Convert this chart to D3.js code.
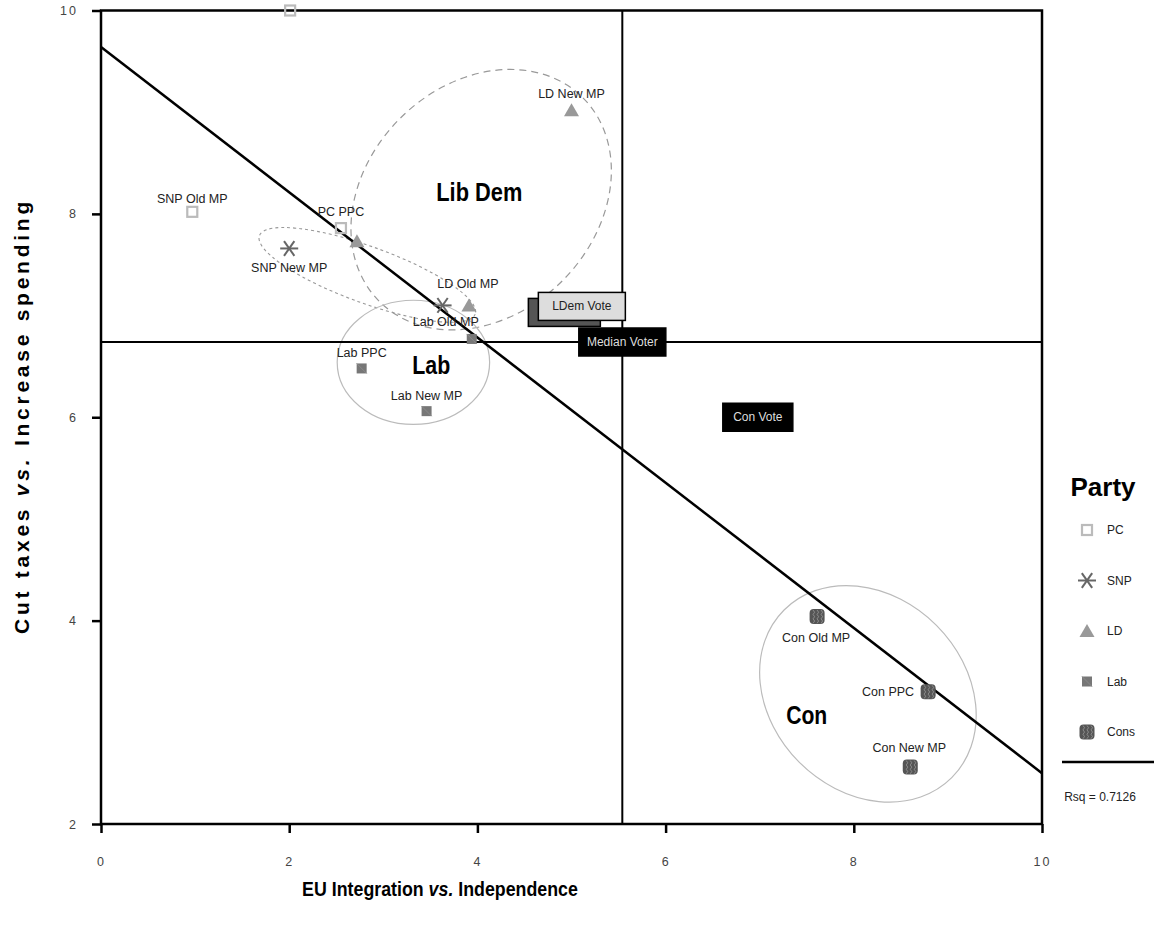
<!DOCTYPE html>
<html>
<head>
<meta charset="utf-8">
<script src="https://cdn.jsdelivr.net/npm/d3@7"></script>
<style>
  body { margin: 0; background: #fff; }
  svg text { font-family: "Liberation Sans", Arial, sans-serif; }
</style>
</head>
<body>
<div id="chart"></div>
<script>
// data
const partyNames = ["PC", "SNP", "LD", "Lab", "Cons"];

const pointParty = ["PC", "PC", "PC", "SNP", "SNP", "LD", "LD", "LD", "Lab", "Lab", "Lab", "Cons", "Cons", "Cons"];
const pointX = [0.97, 2.01, 2.55, 2.00, 3.63, 2.72, 5.00, 3.91, 3.94, 2.77, 3.46, 7.61, 8.79, 8.60];
const pointY = [8.02, 10.0, 7.86, 7.66, 7.10, 7.73, 9.02, 7.10, 6.77, 6.48, 6.06, 4.04, 3.30, 2.56];
const pointLabel = ["SNP Old MP", "", "PC PPC", "SNP New MP", "", "", "LD New MP", "LD Old MP",
                    "Lab Old MP", "Lab PPC", "Lab New MP", "Con Old MP", "Con PPC", "Con New MP"];

const voteLabels = ["LDem Vote", "Median Voter", "Con Vote"];
const voteX = [5.11, 5.54, 6.98];
const voteY = [7.09, 6.74, 6.00];

const groupNames = ["Lib Dem", "SNP", "Lab", "Con"];
const groupCx = [4.04, 2.83, 3.32, 8.15];
const groupCy = [8.14, 7.40, 6.54, 3.28];
const groupLabelX = [4.02, null, 3.51, 7.50];
const groupLabelY = [8.22, null, 6.51, 3.07];

const medianX = 5.54;
const medianY = 6.74;
const fitIntercept = 9.64;
const fitSlope = -0.714;
const rsq = 0.7126;

const xTicks = [0, 2, 4, 6, 8, 10];
const yTicks = [2, 4, 6, 8, 10];

// layout
const W = 1154, H = 930;
const x = d3.scaleLinear().domain([0, 10]).range([101, 1042]);
const y = d3.scaleLinear().domain([2, 10]).range([824, 10.5]);

const svg = d3.select("#chart").append("svg")
    .attr("width", W)
    .attr("height", H);

const boldFont = "'Liberation Sans', Arial, sans-serif";

// ellipses (semi axes in x units, angle in screen degrees)
const ellipseStyle = {
  "Lib Dem": { a: 1.53, b: 1.22, angle: -45, stroke: "#999", width: 1.2, dash: "7,5" },
  "SNP":     { a: 1.22, b: 0.30, angle: 20,  stroke: "#999", width: 1.1, dash: "3,3" },
  "Lab":     { a: 0.81, b: 0.66, angle: 0,   stroke: "#bbb", width: 1.2, dash: null },
  "Con":     { a: 1.26, b: 1.03, angle: 45,  stroke: "#bbb", width: 1.2, dash: null }
};
const unit = x(1) - x(0);

groupNames.forEach((g, i) => {
  const s = ellipseStyle[g];
  svg.append("ellipse")
      .attr("cx", 0).attr("cy", 0)
      .attr("rx", s.a * unit)
      .attr("ry", s.b * unit)
      .attr("transform", `translate(${x(groupCx[i])},${y(groupCy[i])}) rotate(${s.angle})`)
      .attr("fill", "none")
      .attr("stroke", s.stroke)
      .attr("stroke-width", s.width)
      .attr("stroke-dasharray", s.dash);
});

// median lines
svg.append("line")
    .attr("x1", x(medianX)).attr("x2", x(medianX))
    .attr("y1", y(10)).attr("y2", y(2))
    .attr("stroke", "#000").attr("stroke-width", 2);
svg.append("line")
    .attr("x1", x(0)).attr("x2", x(10))
    .attr("y1", y(medianY)).attr("y2", y(medianY))
    .attr("stroke", "#000").attr("stroke-width", 2);

// fit line
svg.append("line")
    .attr("x1", x(0)).attr("y1", y(fitIntercept))
    .attr("x2", x(10)).attr("y2", y(fitIntercept + fitSlope * 10))
    .attr("stroke", "#000").attr("stroke-width", 2.5);

// axes
const xAxis = d3.axisBottom(x).tickValues(xTicks).tickSize(9).tickPadding(24).tickFormat(d3.format("d"));
const yAxis = d3.axisLeft(y).tickValues(yTicks).tickSize(9).tickPadding(14).tickFormat(d3.format("d"));

const gx = svg.append("g").attr("transform", `translate(0,${y(2)})`).call(xAxis);
const gy = svg.append("g").attr("transform", `translate(${x(0)},0)`).call(yAxis);
[gx, gy].forEach(g => {
  g.select(".domain").remove();
  g.selectAll(".tick line").attr("stroke", "#000").attr("stroke-width", 2.5);
  g.selectAll(".tick text")
      .attr("fill", "#444")
      .style("font-size", "12.5px")
      .style("letter-spacing", "2px")
      .style("font-family", "'Liberation Sans', Arial, sans-serif");
});

// frame
svg.append("rect")
    .attr("x", x(0)).attr("y", y(10))
    .attr("width", x(10) - x(0))
    .attr("height", y(2) - y(10))
    .attr("fill", "none")
    .attr("stroke", "#000")
    .attr("stroke-width", 2.5);

// markers
function drawMarker(g, party) {
  if (party === "PC") {
    g.append("rect").attr("x", -5).attr("y", -5).attr("width", 10).attr("height", 10)
        .attr("fill", "none").attr("stroke", "#bbb").attr("stroke-width", 2.2);
  } else if (party === "SNP") {
    [0, 55, -55].forEach(a => {
      g.append("line").attr("x1", -9).attr("x2", 9).attr("y1", 0).attr("y2", 0)
          .attr("transform", `rotate(${a})`)
          .attr("stroke", "#666").attr("stroke-width", 2);
    });
  } else if (party === "LD") {
    g.append("path").attr("d", "M0,-7L7.5,6L-7.5,6Z").attr("fill", "#999");
  } else if (party === "Lab") {
    g.append("rect").attr("x", -5).attr("y", -5).attr("width", 10).attr("height", 10).attr("fill", "#777");
    g.append("line").attr("x1", -5).attr("y1", -5).attr("x2", 5).attr("y2", 5)
        .attr("stroke", "#8a8a8a").attr("stroke-width", 1);
  } else if (party === "Cons") {
    g.append("rect").attr("x", -7.5).attr("y", -7.5).attr("width", 15).attr("height", 15)
        .attr("rx", 4).attr("fill", "#555");
    [-4, 0, 4].forEach(dx => {
      g.append("path")
          .attr("d", `M${dx},-6.5 l1.5,2.2 l-1.5,2.2 l1.5,2.2 l-1.5,2.2 l1.5,2.2 l-1.5,2.2`)
          .attr("fill", "none").attr("stroke", "#999").attr("stroke-width", 0.8);
    });
  }
}

const labelPlace = {
  "SNP Old MP": [0, -9, "middle"],
  "PC PPC": [0, -12, "middle"],
  "SNP New MP": [0, 24, "middle"],
  "LD New MP": [0, -12, "middle"],
  "LD Old MP": [-1, -17, "middle"],
  "Lab Old MP": [-26, -13, "middle"],
  "Lab PPC": [0, -11, "middle"],
  "Lab New MP": [0, -11, "middle"],
  "Con Old MP": [-1, 25, "middle"],
  "Con PPC": [-14, 4, "end"],
  "Con New MP": [-1, -15, "middle"]
};

pointX.forEach((px, i) => {
  const g = svg.append("g").attr("transform", `translate(${x(px)},${y(pointY[i])})`);
  drawMarker(g, pointParty[i]);
});

pointX.forEach((px, i) => {
  const lab = pointLabel[i];
  if (!lab) return;
  const p = labelPlace[lab];
  svg.append("text")
      .attr("x", x(px) + p[0])
      .attr("y", y(pointY[i]) + p[1])
      .attr("text-anchor", p[2])
      .attr("fill", "#222")
      .style("font-size", "12.5px")
      .text(lab);
});

// vote boxes
const voteBox = {
  "LDem Vote": { w: 87, fill: "#ddd", text: "#222", shadow: true },
  "Median Voter": { w: 87, fill: "#000", text: "#ddd", shadow: false },
  "Con Vote": { w: 70, fill: "#000", text: "#ddd", shadow: false }
};
voteLabels.forEach((v, i) => {
  const s = voteBox[v];
  const cx = x(voteX[i]), cy = y(voteY[i]);
  if (s.shadow) {
    svg.append("rect")
        .attr("x", cx - s.w / 2 - 10).attr("y", cy - 14 + 6)
        .attr("width", s.w - 15).attr("height", 28)
        .attr("fill", "#555").attr("stroke", "#000").attr("stroke-width", 1.5);
  }
  svg.append("rect")
      .attr("x", cx - s.w / 2).attr("y", cy - 14)
      .attr("width", s.w).attr("height", 28)
      .attr("fill", s.fill)
      .attr("stroke", "#000").attr("stroke-width", 1.5);
  svg.append("text")
      .attr("x", cx).attr("y", cy + 4)
      .attr("text-anchor", "middle")
      .attr("fill", s.text)
      .style("font-size", "12px")
      .text(v);
});

// group labels
const groupLabelWidth = { "Lib Dem": 86, "Lab": 38, "Con": 41 };
groupNames.forEach((g, i) => {
  if (groupLabelX[i] == null) return;
  svg.append("text")
      .attr("x", x(groupLabelX[i]))
      .attr("y", y(groupLabelY[i]) + 9)
      .attr("text-anchor", "middle")
      .attr("textLength", groupLabelWidth[g])
      .attr("lengthAdjust", "spacingAndGlyphs")
      .style("font-size", "25px")
      .style("font-weight", "bold")
      .style("font-family", boldFont)
      .text(g);
});

// axis titles: squeeze / spread to the reference widths
function axisTitle(parts, size) {
  const t = svg.append("text")
      .attr("x", 0).attr("y", 0)
      .attr("text-anchor", "middle")
      .style("font-size", size + "px")
      .style("font-weight", "bold")
      .style("font-family", boldFont);
  parts.forEach(p => {
    t.append("tspan").style("font-style", p[1] ? "italic" : "normal").text(p[0]);
  });
  return t;
}

const xt = axisTitle([["EU Integration ", false], ["vs.", true], [" Independence", false]], 21);
const xw = xt.node().getComputedTextLength();
xt.attr("transform", `translate(440,896) scale(${276 / xw},1)`);

const yParts = [["Cut taxes ", false], ["vs.", true], [" Increase spending", false]];
const yt = axisTitle(yParts, 21);
const yw = yt.node().getComputedTextLength();
const nChars = yParts.map(p => p[0]).join("").length;
yt.style("letter-spacing", ((436 - yw) / nChars) + "px")
    .attr("transform", "translate(29,416) rotate(-90)");

// legend
svg.append("text")
    .attr("x", 1103).attr("y", 496)
    .attr("text-anchor", "middle")
    .attr("textLength", 65)
    .attr("lengthAdjust", "spacingAndGlyphs")
    .style("font-size", "26px")
    .style("font-weight", "bold")
    .style("font-family", boldFont)
    .text("Party");

const legendY = d3.scalePoint().domain(partyNames).range([530, 732]);
partyNames.forEach(p => {
  const g = svg.append("g").attr("transform", `translate(1087,${legendY(p)})`);
  drawMarker(g, p);
  svg.append("text")
      .attr("x", 1107).attr("y", legendY(p) + 4)
      .attr("fill", "#222")
      .style("font-size", "12px")
      .text(p);
});

svg.append("line")
    .attr("x1", 1062).attr("x2", 1154)
    .attr("y1", 762).attr("y2", 762)
    .attr("stroke", "#000").attr("stroke-width", 2.5);

svg.append("text")
    .attr("x", 1100).attr("y", 801)
    .attr("text-anchor", "middle")
    .attr("fill", "#222")
    .style("font-size", "12px")
    .text("Rsq = " + rsq);
</script>
</body>
</html>
